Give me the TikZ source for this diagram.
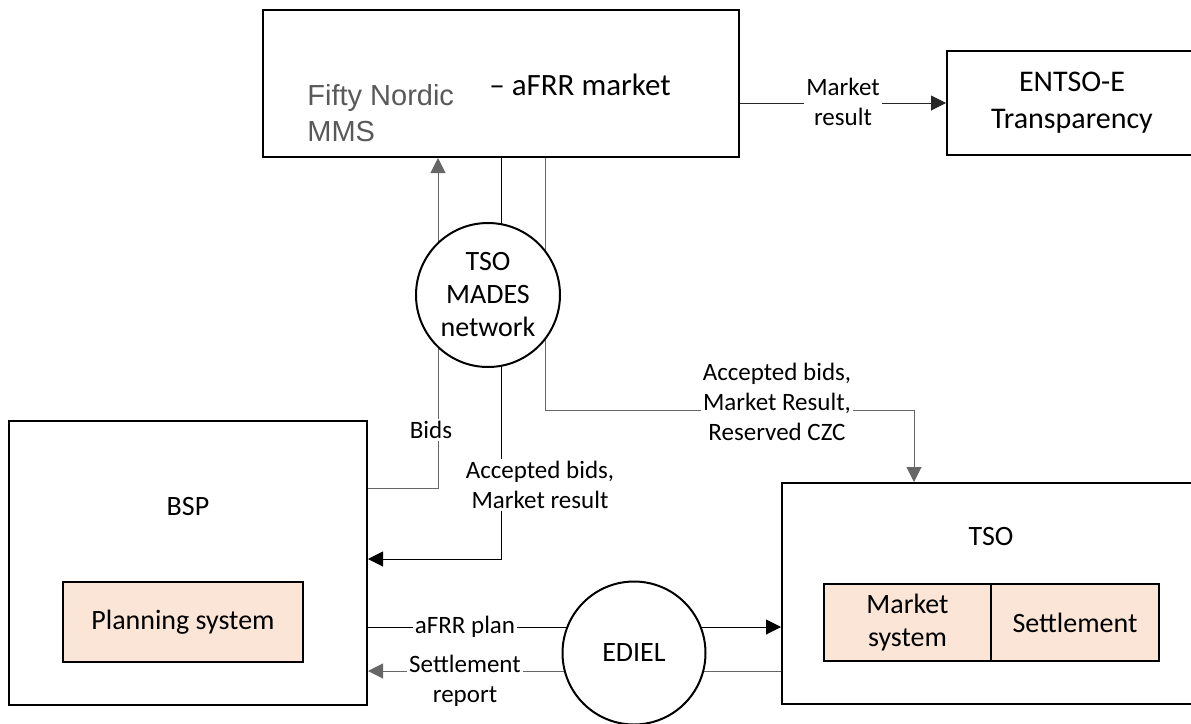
\documentclass[tikz,border=0pt]{standalone}
\usepackage{fontspec}
\setmainfont{Carlito}
\newfontfamily\arialfont{Liberation Sans}
\usetikzlibrary{arrows.meta,backgrounds}
\definecolor{sysfill}{RGB}{251,229,214}
\definecolor{mmsgray}{RGB}{89,89,89}
\begin{document}
\begin{tikzpicture}[x=0.5pt,y=-0.5pt,
  box/.style={draw,line width=1pt,rectangle,inner sep=0pt},
  sys/.style={draw,line width=1pt,fill=sysfill,align=center,inner sep=0pt,font=\fontsize{14}{16.5}\selectfont},
  net/.style={draw,circle,line width=1pt,fill=white,inner sep=0pt,align=center,font=\fontsize{14}{16.5}\selectfont},
  txt/.style={inner sep=0pt,align=center,font=\fontsize{14}{16.5}\selectfont},
  lbl/.style={fill=white,inner sep=1pt,align=center,font=\fontsize{12.5}{15}\selectfont},
  wire/.style={line width=0.5pt},
  arrowend/.style={-{Triangle[length=7.5pt,width=7.5pt]}}]
\useasboundingbox (0,0) rectangle (1191,724);
% boxes
\node[box, minimum width=238pt, minimum height=73.5pt] (MMS) at (501,83.5) {};
\node[inner sep=0pt, anchor=west, align=left, text=mmsgray, font=\arialfont\fontsize{14.5}{18}\selectfont] (MMSname) at (307,113) {Fifty Nordic\\MMS};
\node[inner sep=0pt, font=\fontsize{15.5}{18}\selectfont] (MMStitle) at (580,85) {-- aFRR market};
\node[box, minimum width=125pt, minimum height=52pt, align=center, font=\fontsize{15}{18.5}\selectfont] (ENT) at (1072,103) {ENTSO-E\\Transparency};
\node[box, minimum width=179pt, minimum height=142pt] (BSP) at (188,563) {};
\node[txt] (BSPname) at (188,507) {BSP};
\node[sys, minimum width=120pt, minimum height=40pt] (PLAN) at (183,622) {Planning system};
\node[box, minimum width=209.5pt, minimum height=110.5pt] (TSO) at (991.5,593.5) {};
\node[txt] (TSOname) at (991,537) {TSO};
\node[sys, minimum width=83.5pt, minimum height=38.5pt] (MKT) at (907.5,622.5) {Market\\system};
\node[sys, minimum width=84pt, minimum height=38.5pt] (SET) at (1075,622.5) {Settlement};
% networks
\node[net, minimum size=72pt] (MADES) at (488,295) {TSO\\MADES\\network};
\node[net, minimum size=71.5pt] (EDIEL) at (634,653) {EDIEL};
% bends
\coordinate (bidsturn) at (438,488);
\coordinate (accturn) at (501,559);
\coordinate (czcturn1) at (545,410);
\coordinate (czcturn2) at (914,410);
\coordinate (planlevel) at (0,627);
\coordinate (setlevel) at (0,671);
\begin{pgfonlayer}{background}
\draw[wire,arrowend,black!85] (MMS.east |- ENT.west) -- (ENT.west);
\draw[wire,arrowend,black!60] (bidsturn -| BSP.east) -- (bidsturn) -- (bidsturn |- MMS.south);
\draw[wire,arrowend] (MMS.south) -- (accturn) -- (accturn -| BSP.east);
\draw[wire,arrowend,black!60] (czcturn1 |- MMS.south) -- (czcturn1) -- (czcturn2) -- (czcturn2 |- TSO.north);
\draw[wire,arrowend] (planlevel -| BSP.east) -- (planlevel -| TSO.west);
\draw[wire,arrowend,black!60] (setlevel -| TSO.west) -- (setlevel -| BSP.east);
\end{pgfonlayer}
% labels
\node[lbl] (resultlbl) at (843,102) {Market\\result};
\node[lbl] (bidslbl) at (431,430) {Bids};
\node[lbl] (acclbl) at (540,485) {Accepted bids,\\Market result};
\node[lbl] (czclbl) at (777,402) {Accepted bids,\\Market Result,\\Reserved CZC};
\node[lbl] (planlbl) at (465,627) {aFRR plan};
\node[lbl] (setlbl) at (465,681) {Settlement\\report};
\end{tikzpicture}
\end{document}
